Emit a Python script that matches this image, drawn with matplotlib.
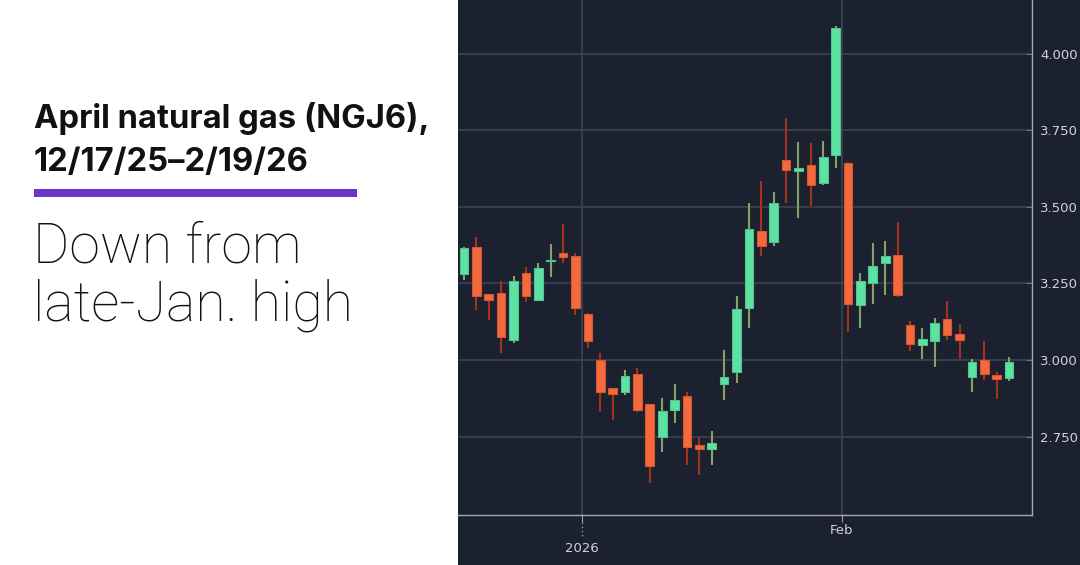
import matplotlib.pyplot as plt
from matplotlib.patches import Rectangle

# trading days, 12/17/25 - 2/19/26
dates = ["12/17", "12/18", "12/19", "12/22", "12/23", "12/24", "12/26", "12/29", "12/30", "12/31",
         "1/2", "1/5", "1/6", "1/7", "1/8", "1/9", "1/12", "1/13", "1/14", "1/15", "1/16",
         "1/19", "1/20", "1/21", "1/22", "1/23", "1/26", "1/27", "1/28", "1/29", "1/30",
         "2/2", "2/3", "2/4", "2/5", "2/6", "2/9", "2/10", "2/11", "2/12", "2/13",
         "2/16", "2/17", "2/18", "2/19"]

opens = [3.281, 3.368, 3.214, 3.220, 3.065, 3.283, 3.196, 3.322, 3.348, 3.340,
         3.150, 3.001, 2.907, 2.896, 2.954, 2.855, 2.749, 2.836, 2.882, 2.722,
         2.708, 2.921, 2.962, 3.171, 3.420, 3.386, 3.654, 3.616, 3.635, 3.579,
         3.670, 3.642, 3.181, 3.252, 3.317, 3.343, 3.113, 3.049, 3.063, 3.133,
         3.085, 2.945, 3.001, 2.952, 2.940]
highs = [3.370, 3.400, 3.216, 3.259, 3.274, 3.303, 3.316, 3.378, 3.443, 3.348,
         3.152, 3.023, 2.907, 2.966, 2.973, 2.857, 2.877, 2.920, 2.894, 2.750,
         2.767, 3.031, 3.208, 3.514, 3.584, 3.549, 3.790, 3.710, 3.708, 3.714,
         4.089, 3.645, 3.284, 3.381, 3.387, 3.452, 3.128, 3.105, 3.137, 3.192,
         3.117, 3.002, 3.062, 2.960, 3.010]
lows = [3.261, 3.163, 3.131, 3.022, 3.056, 3.190, 3.194, 3.272, 3.316, 3.147,
        3.040, 2.830, 2.805, 2.887, 2.830, 2.600, 2.699, 2.793, 2.657, 2.625,
        2.657, 2.868, 2.926, 3.103, 3.341, 3.371, 3.511, 3.465, 3.503, 3.570,
        3.628, 3.092, 3.103, 3.184, 3.213, 3.206, 3.030, 3.002, 2.978, 3.065,
        3.002, 2.894, 2.935, 2.873, 2.933]
closes = [3.365, 3.209, 3.196, 3.076, 3.259, 3.209, 3.299, 3.325, 3.335, 3.171,
          3.062, 2.896, 2.888, 2.948, 2.838, 2.653, 2.833, 2.869, 2.716, 2.711,
          2.730, 2.944, 3.167, 3.427, 3.371, 3.514, 3.620, 3.626, 3.571, 3.661,
          4.083, 3.184, 3.258, 3.306, 3.339, 3.213, 3.051, 3.068, 3.121, 3.081,
          3.066, 2.992, 2.953, 2.937, 2.992]

yticks = [2.75, 3.0, 3.25, 3.5, 3.75, 4.0]
xtick_labels = {"2026": 9.5, "Feb": 30.5}

bg = "#1c2130"
grid_c = "#3b404e"
up_c, up_edge, up_wick = "#5ee2a4", "#4fc48c", "#85a266"
dn_c, dn_edge, dn_wick = "#f26a3d", "#d4572f", "#a3321b"

W, H = 1080, 565
fig = plt.figure(figsize=(W / 100, H / 100), dpi=100)
fig.patch.set_facecolor("white")
fig.patches.append(Rectangle((458 / W, 0), 1 - 458 / W, 1, transform=fig.transFigure,
                             facecolor=bg, edgecolor="none", zorder=-5))

ax = fig.add_axes([458 / W, 50 / H, (1032 - 458) / W, 515 / H])
ax.set_facecolor(bg)

x = list(range(len(dates)))
for i in x:
    o, h, l, c = opens[i], highs[i], lows[i], closes[i]
    up = c >= o
    ax.vlines(i, l, h, color=up_wick if up else dn_wick, lw=1.5, zorder=2)
    body = max(abs(c - o), 0.004)
    ax.bar(i, body, bottom=min(o, c), width=0.7, color=up_c if up else dn_c,
           edgecolor=up_edge if up else dn_edge, linewidth=0.8, zorder=3)

ax.set_xlim(-0.48, 45.85)
ax.set_ylim(2.494, 4.175)

ax.yaxis.tick_right()
ax.set_yticks(yticks)
ax.set_yticklabels([f"{v:.3f}" for v in yticks])
ax.tick_params(axis="y", direction="in", length=4, color="#6b717d",
               labelcolor="#d0d4da", labelsize=9.5, pad=6)
for v in yticks:
    ax.axhline(v, color=grid_c, lw=1.3, zorder=1)

ax.set_xticks(list(xtick_labels.values()))
ax.set_xticklabels([])
ax.tick_params(axis="x", direction="out", length=5, color="#9aa0a8")
for v in xtick_labels.values():
    ax.axvline(v, color=grid_c, lw=1.3, zorder=1)

for s in ["top", "left"]:
    ax.spines[s].set_visible(False)
for s in ["right", "bottom"]:
    ax.spines[s].set_color("#a3a8b0")
    ax.spines[s].set_linewidth(1)

tr = ax.get_xaxis_transform()
ax.text(xtick_labels["Feb"], -0.031, "Feb", transform=tr, ha="center", va="center",
        color="#d0d4da", fontsize=9.5)
ax.plot([xtick_labels["2026"]] * 2, [-0.014, -0.045], transform=tr, clip_on=False,
        color="#9aa0a8", lw=1, ls=(0, (1, 2)))
ax.text(xtick_labels["2026"], -0.066, "2026", transform=tr, ha="center", va="center",
        color="#d0d4da", fontsize=9.5)

# left-hand text panel
fig.text(34 / W, 1 - 128 / H, "April natural gas (NGJ6),", fontsize=23.6, fontweight="bold",
         family="Inter", color="#111111", va="baseline")
fig.text(34 / W, 1 - 171 / H, "12/17/25\u20132/19/26", fontsize=23.6, fontweight="bold",
         family="Inter", color="#111111", va="baseline")
fig.patches.append(Rectangle((34 / W, 1 - 197 / H), (357 - 34) / W, 8 / H,
                             transform=fig.transFigure, facecolor="#6a35c9", edgecolor="none"))
fig.text(33 / W, 1 - 263 / H, "Down from", fontsize=40, fontweight="light",
         family="Roboto", color="#111111", va="baseline")
fig.text(33 / W, 1 - 321 / H, "late-Jan. high", fontsize=40, fontweight="light",
         family="Roboto", color="#111111", va="baseline")

fig.savefig("out.png", dpi=100, facecolor=fig.get_facecolor())
